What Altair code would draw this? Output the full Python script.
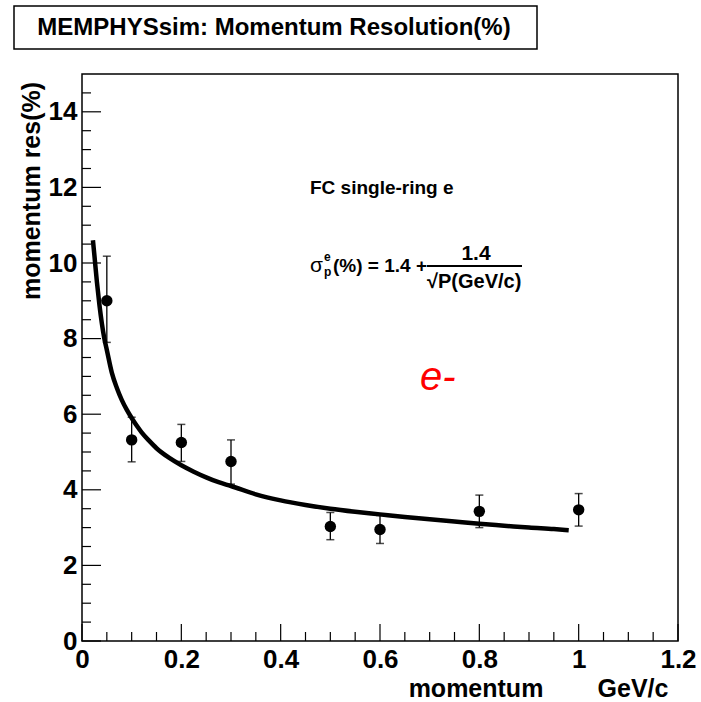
import altair as alt
import pandas as pd

# ---- data ----
pt_x = [0.05, 0.1, 0.2, 0.3, 0.5, 0.6, 0.8, 1.0]
pt_y = [9.0, 5.32, 5.25, 4.75, 3.03, 2.95, 3.43, 3.47]
pt_lo = [7.9, 4.74, 4.75, 4.15, 2.68, 2.58, 3.0, 3.04]
pt_hi = [10.18, 5.92, 5.73, 5.32, 3.4, 3.32, 3.86, 3.9]

curve_x = [0.022, 0.025, 0.03, 0.035, 0.04, 0.045, 0.05, 0.06, 0.07, 0.08, 0.09,
           0.1, 0.11, 0.12, 0.135, 0.15, 0.175, 0.2, 0.225, 0.25, 0.275, 0.3,
           0.35, 0.4, 0.45, 0.5, 0.55, 0.6, 0.65, 0.7, 0.75, 0.8, 0.85, 0.9,
           0.95, 0.98]
curve_y = [10.6, 10.2, 9.5, 8.9, 8.4, 8.0, 7.7, 7.1, 6.7, 6.38, 6.12,
           5.9, 5.7, 5.52, 5.3, 5.1, 4.85, 4.65, 4.48, 4.33, 4.2, 4.1,
           3.88, 3.72, 3.6, 3.5, 3.42, 3.35, 3.28, 3.22, 3.16, 3.1, 3.05, 3.0,
           2.96, 2.93]

x_major = [0, 0.2, 0.4, 0.6, 0.8, 1.0, 1.2]
x_minor = [0.05, 0.1, 0.15, 0.25, 0.3, 0.35, 0.45, 0.5, 0.55, 0.65, 0.7, 0.75,
           0.85, 0.9, 0.95, 1.05, 1.1, 1.15]
y_major = [0, 2, 4, 6, 8, 10, 12, 14]
y_minor = [0.5, 1, 1.5, 2.5, 3, 3.5, 4.5, 5, 5.5, 6.5, 7, 7.5, 8.5, 9, 9.5,
           10.5, 11, 11.5, 12.5, 13, 13.5, 14.5]

title_text = "MEMPHYSsim: Momentum Resolution(%)"
y_title = "momentum res(%)"
x_title_a = "momentum"
x_title_b = "GeV/c"
label_fc = "FC single-ring e"
label_e = "e-"

FONT = "Liberation Sans"
W, H = 596, 567

pts = pd.DataFrame({"p": pt_x, "r": pt_y, "lo": pt_lo, "hi": pt_hi})
curve = pd.DataFrame({"p": curve_x, "r": curve_y})

xs = alt.Scale(domain=[0, 1.2], nice=False)
ys = alt.Scale(domain=[0, 15], nice=False)

X = alt.X("p:Q", scale=xs,
          axis=alt.Axis(values=x_major, format="~g", title=None, ticks=False,
                        domain=False, grid=False, labelFlush=False,
                        labelFont=FONT, labelFontWeight="bold", labelFontSize=26,
                        labelColor="black", labelPadding=5))
Y = alt.Y("r:Q", scale=ys,
          axis=alt.Axis(values=y_major, format="~g", title=None, ticks=False,
                        domain=False, grid=False, labelFlush=False,
                        labelFont=FONT, labelFontWeight="bold", labelFontSize=26,
                        labelColor="black", labelPadding=5))

base_curve = alt.Chart(curve).mark_line(color="black", strokeWidth=4.5, clip=True,
                                        interpolate="monotone").encode(x=X, y=Y)

err = alt.Chart(pts).mark_rule(color="black", strokeWidth=1.3).encode(
    x=alt.X("p:Q", scale=xs), y=alt.Y("lo:Q", scale=ys), y2="hi:Q")
cap_hi = alt.Chart(pts).mark_tick(color="black", orient="horizontal", size=8, thickness=1.5).encode(
    x=alt.X("p:Q", scale=xs), y=alt.Y("hi:Q", scale=ys))
cap_lo = alt.Chart(pts).mark_tick(color="black", orient="horizontal", size=8, thickness=1.5).encode(
    x=alt.X("p:Q", scale=xs), y=alt.Y("lo:Q", scale=ys))
dots = alt.Chart(pts).mark_circle(color="black", opacity=1, size=130).encode(
    x=alt.X("p:Q", scale=xs), y=alt.Y("r:Q", scale=ys))

# ticks (ROOT style, pointing into the frame)
xmaj = alt.Chart(pd.DataFrame({"t": x_major})).mark_rule(color="black", strokeWidth=1.2).encode(
    x=alt.X("t:Q", scale=xs), y=alt.value(H), y2=alt.value(H - 17))
xmin = alt.Chart(pd.DataFrame({"t": x_minor})).mark_rule(color="black", strokeWidth=1.2).encode(
    x=alt.X("t:Q", scale=xs), y=alt.value(H), y2=alt.value(H - 9))
ymaj = alt.Chart(pd.DataFrame({"t": y_major})).mark_rule(color="black", strokeWidth=1.2).encode(
    y=alt.Y("t:Q", scale=ys), x=alt.value(0), x2=alt.value(19))
ymin = alt.Chart(pd.DataFrame({"t": y_minor})).mark_rule(color="black", strokeWidth=1.2).encode(
    y=alt.Y("t:Q", scale=ys), x=alt.value(0), x2=alt.value(9))

def txt(s, x, y, size, weight="bold", align="left", baseline="alphabetic",
        color="black", style="normal", angle=0):
    kw = dict(text=s, font=FONT, fontSize=size, fontWeight=weight, align=align,
              baseline=baseline, color=color, fontStyle=style)
    if angle:
        kw["angle"] = angle
    return alt.Chart(pd.DataFrame({"s": [s]})).mark_text(**kw).encode(
        x=alt.value(x), y=alt.value(y))

# title box
tbox = alt.Chart(pd.DataFrame({"s": [title_text]})).mark_rect(
    fill="white", stroke="black", strokeWidth=1.5).encode(
    x=alt.value(-68), x2=alt.value(455), y=alt.value(-68), y2=alt.value(-25))
ttext = txt(title_text, 192, -46, 24, align="center", baseline="middle")

ytitle = txt(y_title, -50, 117, 25, align="center", baseline="middle", angle=270)
xt_a = txt(x_title_a, 394, 623, 25, align="center")
xt_b = txt(x_title_b, 551, 623, 25, align="center")

fc = txt(label_fc, 228, 120, 19)
sig = txt("σ", 228, 198, 21, weight="normal")
sup = txt("e", 242, 187, 12, weight="bold")
sub = txt("p", 242, 202, 12, weight="bold")
eq = txt("(%) = 1.4 +", 251, 198, 19)
num = txt("1.4", 394, 186, 21, align="center")
bar = alt.Chart(pd.DataFrame({"s": ["bar"]})).mark_rule(color="black", strokeWidth=2).encode(
    x=alt.value(345), x2=alt.value(440), y=alt.value(192))
den = txt("√P(GeV/c)", 345, 214, 20)

elab = txt(label_e, 338, 316, 40, weight="normal", style="italic", color="#ff0000")

chart = alt.layer(
    tbox, ttext, xmaj, xmin, ymaj, ymin, base_curve, err, cap_hi, cap_lo, dots,
    ytitle, xt_a, xt_b, fc, sig, sup, sub, eq, num, bar, den, elab
).properties(
    width=W, height=H,
    padding={"left": 82, "top": 74, "right": 23, "bottom": 61},
    autosize=alt.AutoSizeParams(type="none"),
    background="white",
).configure_view(stroke="black", strokeWidth=1.5)

chart.save("out.html", embed_options={"renderer": "svg", "actions": False})
